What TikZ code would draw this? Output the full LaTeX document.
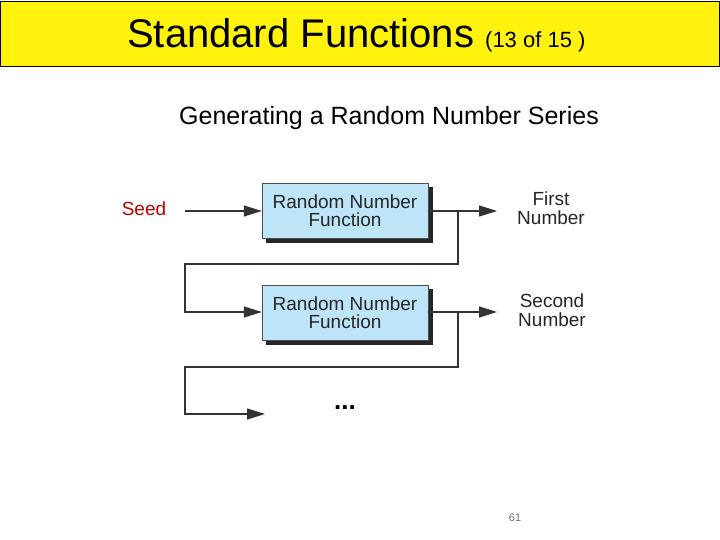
\documentclass[tikz,border=0pt]{standalone}
\usepackage{fontspec}
\setmainfont{Liberation Sans}
\usetikzlibrary{arrows.meta}
\begin{document}
\begin{tikzpicture}[x=1pt,y=-1pt,
  fn/.style={draw=black!70,fill=boxblue,minimum width=166pt,minimum height=55pt,inner sep=0pt,align=center,font=\fontsize{19}{18}\selectfont,text=black!85},
  shad/.style={fill=black!85},
  ln/.style={draw=black!80,line width=1.1pt},
  arr/.style={ln,-{Triangle[length=18pt,width=11pt]}},
  lbl/.style={align=center,font=\fontsize{19}{19}\selectfont,text=black!85}]
\definecolor{boxblue}{RGB}{190,228,248}
\useasboundingbox (0,0) rectangle (720,540);
\fill[white] (0,0) rectangle (720,540);
\node[draw=black,fill=yellow!95!white,line width=0.8pt,minimum width=719pt,minimum height=65pt,inner sep=0pt] (tb) at (360,33.5) {};
\node[anchor=west,inner sep=0pt] (title) at (127,35) {\fontsize{40}{44}\selectfont Standard Functions {\fontsize{22}{24}\selectfont(13 of 15 )}};
\node[inner sep=0pt] (sub) at (389,118) {\fontsize{25}{28}\selectfont Generating a Random Number Series};
\fill[shad] (266,187) rectangle (433,243);
\fill[shad] (266,289) rectangle (433,345);
\node[fn] (f1) at (345,210.5) {Random Number\\Function};
\node[fn] (f2) at (345,312.5) {Random Number\\Function};
\node[text=red!75!black,font=\fontsize{19}{19}\selectfont] (seed) at (144,209) {Seed};
\node[lbl] (o1) at (551,208) {First\\Number};
\node[lbl] (o2) at (552,310) {Second\\Number};
\node[font=\bfseries\fontsize{26}{26}\selectfont] (dots) at (345,408) {...};
\node[text=black!55,font=\fontsize{11}{12}\selectfont] (pg) at (515,518) {61};
\coordinate (s0) at (185,211);
\coordinate (e1) at (497,211);
\coordinate (b1) at (458,211);
\coordinate (e2) at (497,312);
\coordinate (b2) at (458,312);
\coordinate (e3) at (265,414);
\draw[arr] (s0) -- (s0 -| f1.west);
\draw[arr] (f1.east |- e1) -- (e1);
\draw[arr] (b1) -- (458,264) -- (185,264) -- (185,312) -- (f2.west |- b2);
\draw[arr] (f2.east |- e2) -- (e2);
\draw[arr] (b2) -- (458,367) -- (185,367) -- (185,414) -- (e3);
\end{tikzpicture}
\end{document}
